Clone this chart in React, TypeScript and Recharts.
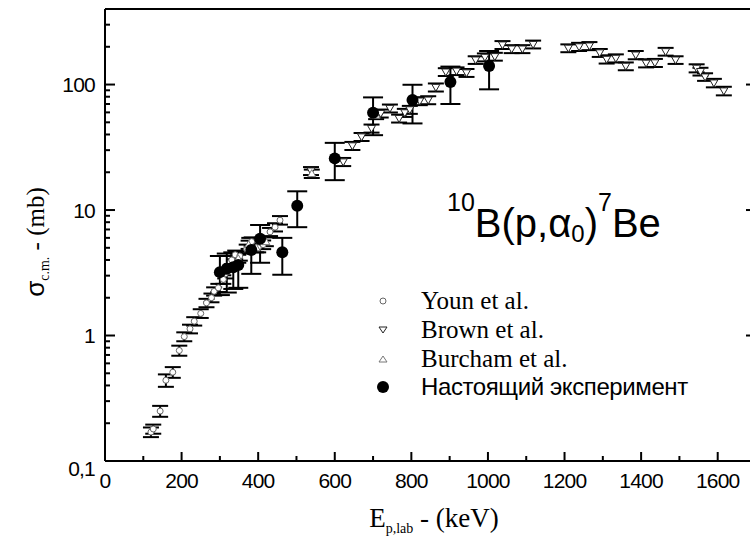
import React from "react";
import { ScatterChart, Scatter, XAxis, YAxis, ErrorBar, Legend } from "recharts";

// axis ticks
const xTicks = [0, 100, 200, 300, 400, 500, 600, 700, 800, 900, 1000, 1100, 1200, 1300, 1400, 1500, 1600, 1700];
const xLabelStep = 200;
const yTicks = [
  0.1, 0.2, 0.3, 0.4, 0.5, 0.6, 0.7, 0.8, 0.9,
  1, 2, 3, 4, 5, 6, 7, 8, 9,
  10, 20, 30, 40, 50, 60, 70, 80, 90,
  100, 200, 300, 400,
];
const yDecades = [0.1, 1, 10, 100];

// [E (keV), sigma (mb), error (mb)]
const youn: [number, number, number][] = [
  [120, 0.17, 0.015], [126, 0.18, 0.015], [144, 0.25, 0.025], [159, 0.44, 0.05],
  [177, 0.51, 0.05], [194, 0.76, 0.07], [207, 0.98, 0.08], [222, 1.13, 0.09],
  [233, 1.3, 0.1], [250, 1.5, 0.12], [265, 1.82, 0.14], [278, 2.0, 0.16],
  [285, 2.25, 0.17], [296, 2.4, 0.18], [309, 2.8, 0.22], [314, 3.1, 0.25],
  [331, 4.0, 0.3], [340, 4.4, 0.35], [352, 4.3, 0.35], [370, 4.9, 0.4],
  [383, 5.6, 0.45], [400, 5.0, 0.4], [413, 5.3, 0.42], [431, 6.7, 0.5],
  [444, 7.3, 0.55], [457, 8.3, 0.65],
];

const brown: [number, number, number][] = [
  [538, 20.5, 1.5], [622, 24.2, 1.8], [646, 32.5, 2.4], [670, 38.3, 2.8],
  [696, 44.7, 3.3], [720, 58.9, 4.3], [744, 64.6, 4.7], [768, 53.7, 3.9],
  [783, 59.6, 4.4], [796, 63, 4.6], [822, 73.9, 5.4], [844, 75.2, 5.5],
  [864, 95, 7], [890, 126, 9], [918, 128, 9], [944, 124, 9],
  [968, 157, 11], [992, 165, 12], [1018, 167, 12], [1038, 207, 15],
  [1062, 192, 14], [1090, 192, 14], [1118, 209, 15], [1210, 195, 14],
  [1238, 200, 15], [1265, 203, 15], [1292, 179, 13], [1310, 159, 12],
  [1334, 162, 12], [1360, 140, 10], [1386, 172, 13], [1413, 148, 11],
  [1436, 149, 11], [1464, 183, 13], [1490, 157, 11], [1545, 135, 10],
  [1555, 127, 9], [1567, 115, 8], [1590, 103, 8], [1616, 89, 7],
];

const burcham: [number, number, number][] = [
  [348, 4.1, 0.3], [375, 5.3, 0.4], [395, 5.0, 0.4], [420, 5.6, 0.45],
  [540, 19.5, 1.5], [708, 57, 4],
];

// [E (keV), sigma (mb), lower bound, upper bound]
const present: [number, number, number, number][] = [
  [300, 3.2, 2.1, 4.3], [318, 3.4, 2.2, 4.5], [335, 3.5, 2.35, 4.6], [348, 3.65, 2.4, 4.7],
  [382, 4.8, 3.1, 6.0], [405, 5.9, 3.8, 7.6], [463, 4.6, 3.05, 6.0], [502, 10.8, 7.3, 14.1],
  [600, 25.8, 17.3, 34.3], [700, 59.6, 39.5, 79], [803, 75.2, 49, 99.6],
  [902, 105, 70, 139], [1003, 140.5, 91.6, 185],
];

const legendRows = ["Youn et al.", "Brown et al.", "Burcham et al.", "Настоящий эксперимент"];

const sym = (rows: [number, number, number][]) => rows.map(([x, y, err]) => ({ x, y, err }));
const presentPts = present.map(([x, y, lo, hi]) => ({ x, y, err: [y - lo, hi - y] }));

const SANS = "'Liberation Sans', Arial, sans-serif";
const SERIF = "'Liberation Serif', 'Times New Roman', serif";
const X_MARGIN = 19;
const Y_MARGIN = 10;

const OpenCircle = (p: any) => (
  <circle cx={p.cx} cy={p.cy} r={3} fill="#fff" stroke="#666" strokeWidth={1} />
);
const TriDown = (p: any) => (
  <path d={`M${p.cx - 4},${p.cy - 3}L${p.cx + 4},${p.cy - 3}L${p.cx},${p.cy + 4}Z`} fill="#fff" stroke="#222" strokeWidth={1} />
);
const TriUp = (p: any) => (
  <path d={`M${p.cx - 4},${p.cy + 3}L${p.cx + 4},${p.cy + 3}L${p.cx},${p.cy - 4}Z`} fill="#fff" stroke="#777" strokeWidth={1} />
);
const Filled = (p: any) => <circle cx={p.cx} cy={p.cy} r={6} fill="#000" />;

const BottomTick = (p: any) => {
  const major = p.payload.value % xLabelStep === 0;
  const ay = p.y - X_MARGIN;
  return (
    <g>
      <line x1={p.x} x2={p.x} y1={ay} y2={ay - (major ? 9 : 5)} stroke="#000" strokeWidth={2} />
      {major && p.payload.value <= 1600 && (
        <text x={p.x} y={p.y} dy="0.36em" textAnchor="middle" fontFamily={SANS} fontSize={21} letterSpacing={-0.8} fill="#000">
          {p.payload.value}
        </text>
      )}
    </g>
  );
};

const TopTick = (p: any) => {
  const major = p.payload.value % xLabelStep === 0;
  return <line x1={p.x} x2={p.x} y1={p.y} y2={p.y + (major ? 9 : 5)} stroke="#000" strokeWidth={2} />;
};

const LeftTick = (p: any) => {
  const v = p.payload.value;
  const major = yDecades.includes(v);
  const ax = p.x + Y_MARGIN;
  return (
    <g>
      <line x1={ax} x2={ax + (major ? 10 : 5)} y1={p.y} y2={p.y} stroke="#000" strokeWidth={2} />
      {major && (
        <text x={p.x} y={p.y} dy={v === 0.1 ? "0.7em" : "0.36em"} textAnchor="end" fontFamily={SANS} fontSize={21} letterSpacing={-0.8} fill="#000">
          {v === 0.1 ? "0,1" : v}
        </text>
      )}
    </g>
  );
};

const RightTick = (p: any) => {
  const major = yDecades.includes(p.payload.value);
  return <line x1={p.x} x2={p.x - (major ? 10 : 5)} y1={p.y} y2={p.y} stroke="#000" strokeWidth={2} />;
};

const legendShapes = [
  <circle cx={12} cy={14} r={3} fill="#fff" stroke="#666" strokeWidth={1} />,
  <path d="M8,11L16,11L12,17Z" fill="#fff" stroke="#222" strokeWidth={1} />,
  <path d="M8,17L16,17L12,11Z" fill="#fff" stroke="#777" strokeWidth={1} />,
  <circle cx={12} cy={14} r={6} fill="#000" />,
];

const LegendBox = () => (
  <div>
    {legendRows.map((label, i) => (
      <div key={label} style={{ display: "flex", alignItems: "center", height: 28.7 }}>
        <svg width={50} height={28}>{legendShapes[i]}</svg>
        <span
          style={{
            fontFamily: i === 3 ? SANS : SERIF,
            fontSize: i === 3 ? 24 : 25,
            letterSpacing: i === 3 ? -0.4 : 0,
            color: "#000",
            whiteSpace: "nowrap",
          }}
        >
          {label}
        </span>
      </div>
    ))}
  </div>
);

export default function App() {
  const axisLine = { stroke: "#000", strokeWidth: 2 };
  return (
    <div style={{ position: "absolute", left: 0, top: 0, width: 750, height: 538, overflow: "hidden", background: "#fff" }}>
      <ScatterChart width={780} height={538} margin={{ top: 8, right: 23, bottom: 17, left: 45 }}>
        <XAxis dataKey="x" type="number" domain={[0, 1700]} ticks={xTicks} interval={0} height={60}
          tickSize={0} tickMargin={X_MARGIN} tickLine={false} axisLine={axisLine} tick={BottomTick} />
        <XAxis xAxisId="top" orientation="top" type="number" domain={[0, 1700]} ticks={xTicks} interval={0} height={1}
          tickSize={0} tickMargin={0} tickLine={false} axisLine={axisLine} tick={TopTick} />
        <YAxis dataKey="y" type="number" scale="log" domain={[0.1, 400]} allowDataOverflow ticks={yTicks} interval={0}
          width={60} tickSize={0} tickMargin={Y_MARGIN} tickLine={false} axisLine={axisLine} tick={LeftTick} />
        <YAxis yAxisId="right" orientation="right" type="number" scale="log" domain={[0.1, 400]} allowDataOverflow
          ticks={yTicks} interval={0} width={1} tickSize={0} tickMargin={0} tickLine={false} axisLine={axisLine} tick={RightTick} />
        <Scatter name="Brown et al." data={sym(brown)} shape={TriDown} isAnimationActive={false}>
          <ErrorBar dataKey="err" direction="y" width={8} stroke="#000" strokeWidth={2} isAnimationActive={false} />
        </Scatter>
        <Scatter name="Youn et al." data={sym(youn)} shape={OpenCircle} isAnimationActive={false}>
          <ErrorBar dataKey="err" direction="y" width={8} stroke="#000" strokeWidth={2} isAnimationActive={false} />
        </Scatter>
        <Scatter name="Burcham et al." data={sym(burcham)} shape={TriUp} isAnimationActive={false}>
          <ErrorBar dataKey="err" direction="y" width={8} stroke="#000" strokeWidth={2} isAnimationActive={false} />
        </Scatter>
        <Scatter name="Настоящий эксперимент" data={presentPts} shape={Filled} isAnimationActive={false}>
          <ErrorBar dataKey="err" direction="y" width={10} stroke="#000" strokeWidth={2} isAnimationActive={false} />
        </Scatter>
        <Legend layout="horizontal" verticalAlign="middle" align="center" content={LegendBox}
          wrapperStyle={{ left: 371, top: 287, width: 360 }} />
      </ScatterChart>
      <svg width={750} height={538} style={{ position: "absolute", left: 0, top: 0, pointerEvents: "none" }}>
        <text x={447} y={237} fontFamily={SANS} fontSize={40} fill="#000">
          <tspan fontSize={25} dy={-26}>10</tspan>
          <tspan dy={26}>B(p,α</tspan>
          <tspan fontSize={24} dy={5}>0</tspan>
          <tspan dy={-5}>)</tspan>
          <tspan fontSize={25} dy={-26}>7</tspan>
          <tspan dy={26}>Be</tspan>
        </text>
        <text transform="translate(44,242) rotate(-90)" textAnchor="middle" fontFamily={SERIF} fontSize={25} fill="#000">
          <tspan fontFamily={SANS} fontSize={26}>σ</tspan>
          <tspan fontSize={14} dy={5}>c.m.</tspan>
          <tspan dy={-5}> - (mb)</tspan>
        </text>
        <text x={434} y={527} textAnchor="middle" fontFamily={SERIF} fontSize={27} fill="#000">
          E<tspan fontSize={14} dy={6}>p,lab</tspan>
          <tspan dy={-6}> - (keV)</tspan>
        </text>
      </svg>
    </div>
  );
}
